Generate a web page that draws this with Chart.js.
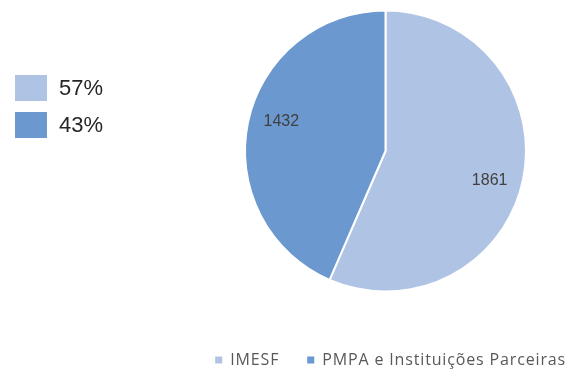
<!DOCTYPE html>
<html>
<head>
<meta charset="utf-8">
<script src="https://cdn.jsdelivr.net/npm/chart.js@4/dist/chart.umd.min.js"></script>
<style>
  html, body { margin: 0; padding: 0; background: #ffffff; }
  #wrap { width: 567px; height: 370px; }
</style>
</head>
<body>
<div id="wrap"><canvas id="c" width="567" height="370"></canvas></div>
<script>
// Origem dos profissionais
const categories = ['IMESF', 'PMPA e Instituições Parceiras'];
const values = [1861, 1432];
const colors = ['#AFC3E4', '#6A98CF'];

// Percentage legend on the left (boxes + "57%" / "43%")
const percentLegend = {
  id: 'percentLegend',
  afterDraw(chart) {
    const ctx = chart.ctx;
    const data = chart.data.datasets[0].data;
    const total = data.reduce((a, b) => a + b, 0);
    ctx.save();
    ctx.font = '22px "Liberation Sans", Arial, sans-serif';
    ctx.textBaseline = 'middle';
    ctx.textAlign = 'left';
    data.forEach((v, i) => {
      const top = 75 + i * 37;
      ctx.fillStyle = chart.data.datasets[0].backgroundColor[i];
      ctx.fillRect(15, top, 32, 26);
      ctx.fillStyle = '#262626';
      ctx.fillText(Math.round(v / total * 100) + '%', 59, top + 14);
    });
    ctx.restore();
  }
};

// Category legend along the bottom, right-aligned
const bottomLegend = {
  id: 'bottomLegend',
  afterDraw(chart) {
    const ctx = chart.ctx;
    const labels = chart.data.labels;
    const bg = chart.data.datasets[0].backgroundColor;
    ctx.save();
    ctx.font = '16px "Open Sans", sans-serif';
    ctx.letterSpacing = '0.85px';
    ctx.textBaseline = 'middle';
    ctx.textAlign = 'left';
    const box = 7, gapBox = 8, gapItem = 28;
    const widths = labels.map(l => ctx.measureText(l).width);
    let total = 0;
    widths.forEach((w, i) => { total += box + gapBox + w + (i < widths.length - 1 ? gapItem : 0); });
    let x = chart.width - 1 - total;
    const y = 360;
    labels.forEach((l, i) => {
      ctx.fillStyle = bg[i];
      ctx.fillRect(x, y - box / 2, box, box);
      x += box + gapBox;
      ctx.fillStyle = '#595959';
      ctx.fillText(l, x, y);
      x += widths[i] + gapItem;
    });
    ctx.restore();
  }
};

// Values written inside each slice, set slightly clockwise of the slice middle
const sliceValues = {
  id: 'sliceValues',
  afterDatasetsDraw(chart) {
    const ctx = chart.ctx;
    const meta = chart.getDatasetMeta(0);
    const data = chart.data.datasets[0].data;
    ctx.save();
    ctx.font = '16px "Liberation Sans", Arial, sans-serif';
    ctx.fillStyle = '#404040';
    ctx.textAlign = 'center';
    ctx.textBaseline = 'middle';
    meta.data.forEach((arc, i) => {
      const p = arc.getProps(['x', 'y', 'startAngle', 'endAngle', 'outerRadius'], true);
      const mid = (p.startAngle + p.endAngle) / 2 + 0.07;
      const r = p.outerRadius * 0.77;
      ctx.fillText(String(data[i]), p.x + Math.cos(mid) * r, p.y + Math.sin(mid) * r);
    });
    ctx.restore();
  }
};

new Chart(document.getElementById('c'), {
  type: 'pie',
  data: {
    labels: categories,
    datasets: [{
      data: values,
      backgroundColor: colors,
      borderColor: '#ffffff',
      borderWidth: 2
    }]
  },
  options: {
    responsive: false,
    animation: false,
    devicePixelRatio: 1,
    layout: { padding: { left: 244, right: 40, top: 9, bottom: 77 } },
    plugins: {
      legend: { display: false },
      tooltip: { enabled: false }
    }
  },
  plugins: [sliceValues, percentLegend, bottomLegend]
});
</script>
</body>
</html>
